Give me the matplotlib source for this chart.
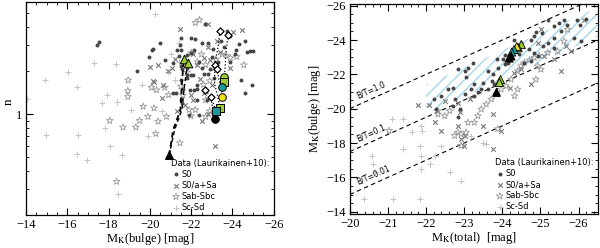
import numpy as np
import matplotlib
matplotlib.use("Agg")
import matplotlib.pyplot as plt
from matplotlib.ticker import MultipleLocator, FixedLocator, NullFormatter, FixedFormatter

plt.rcParams["font.family"] = "Liberation Serif"
plt.rcParams["mathtext.fontset"] = "stix"
plt.rcParams["hatch.linewidth"] = 1.0

# ---- left panel: M_K(bulge) vs n (Laurikainen+10 sample) ----
s0_mb = [-17.42, -17.52, -20.13, -20.5, -19.39, -20.72, -21.42, -21.98, -22.65, -22.53, -22.8, -23.06,
         -23.72, -23.86, -24.19, -24.6, -24.7, -24.85, -25.0, -24.43, -24.93, -24.63, -23.39, -21.1,
         -21.25, -22.0, -22.9, -22.5, -22.6, -22.8, -23.1, -21.8, -22.75, -21.9, -22.4, -23.1, -20.11,
         -19.97, -21.53, -21.45, -21.3, -21.53, -21.8, -21.97, -22.14, -21.1, -21.5, -21.56, -21.8,
         -21.5, -21.6, -21.93, -22.14, -22.26, -21.8, -22.1, -22.3, -22.26, -21.5, -21.55, -23.9,
         -24.1, -23.0, -23.3, -22.4, -23.6, -23.45, -24.3, -22.2]
s0_n = [3.0, 3.19, 2.81, 3.09, 2.0, 2.37, 2.52, 3.37, 4.2, 3.12, 3.1, 2.81, 3.77, 3.5, 2.8, 3.2, 2.7,
        2.75, 2.72, 1.72, 1.59, 1.40, 1.55, 1.40, 1.40, 1.87, 2.05, 2.1, 1.9, 1.9, 1.77, 1.77, 1.25,
        0.99, 0.99, 1.11, 2.77, 2.49, 3.4, 3.0, 2.77, 2.77, 2.56, 2.66, 2.77, 2.25, 2.15, 2.04, 2.1,
        1.72, 1.49, 1.48, 1.48, 1.5, 1.87, 1.87, 1.6, 1.25, 1.25, 1.2, 2.3, 2.6, 2.5, 2.3, 2.3, 2.9,
        3.2, 3.05, 3.3]

sa_mb = [-21.45, -22.82, -20.13, -20.2, -20.03, -20.64, -21.05, -21.2, -23.14, -22.5, -22.1, -22.9,
         -23.1, -24.03, -24.45, -23.25, -22.8, -23.4, -22.1, -20.4, -20.9, -22.3, -22.6, -22.0, -21.7,
         -22.8, -22.6, -23.0, -20.6, -21.3, -23.9, -22.45]
sa_n = [3.92, 4.2, 1.7, 1.66, 2.11, 1.59, 2.1, 2.43, 0.60, 0.89, 1.25, 2.37, 2.1, 3.7, 3.85, 3.2, 2.9,
        2.7, 2.6, 2.2, 2.0, 2.2, 2.45, 1.35, 1.15, 1.0, 1.4, 1.6, 1.3, 1.05, 2.1, 1.75]

sb_mb = [-18.95, -18.93, -18.93, -19.68, -19.5, -18.06, -18.7, -19.32, -19.9, -20.08, -20.32, -20.2,
         -20.4, -20.8, -20.28, -20.72, -20.9, -21.45, -21.5, -21.6, -21.99, -22.2, -21.9, -22.0, -22.9,
         -23.1, -22.7, -22.7, -24.55, -18.39, -22.2, -22.4, -22.3, -22.5, -22.7, -23.2, -23.5, -23.9,
         -22.9, -21.8, -22.6, -24.2, -23.7]
sb_n = [1.72, 1.45, 1.32, 1.13, 0.90, 0.90, 0.81, 0.81, 0.96, 1.53, 1.47, 1.1, 0.89, 0.96, 0.73, 1.53,
        1.36, 0.63, 1.56, 1.35, 0.97, 1.07, 1.07, 2.66, 1.05, 1.02, 0.96, 1.25, 2.19, 0.34, 4.3, 4.5,
        2.3, 2.6, 2.2, 2.4, 2.6, 2.45, 1.7, 1.95, 1.6, 2.5, 2.55]

sc_mb = [-20.26, -17.3, -16.05, -18.35, -14.93, -16.45, -17.9, -17.7, -18.4, -19.1, -17.84, -18.06,
         -14.97, -16.53, -16.48, -16.94, -18.63, -18.48, -21.4, -21.4, -19.9, -21.2, -20.9, -14.03,
         -19.6, -20.6, -21.0]
sc_n = [4.97, 2.27, 1.97, 2.23, 1.72, 1.55, 1.36, 1.20, 1.22, 1.07, 0.80, 0.60, 0.72, 0.72, 0.53, 0.48,
        0.52, 0.28, 2.3, 3.09, 0.70, 1.72, 1.97, 1.27, 1.6, 1.05, 2.6]

# model tracks (left)
dash1_mb = [-20.93, -21.13, -21.48, -21.53, -21.6, -21.65]
dash1_n = [0.516, 0.78, 1.07, 1.47, 2.02, 2.43]
dash2_mb = [-20.93, -21.2, -21.55, -21.65, -21.75, -21.86]
dash2_n = [0.516, 0.78, 1.07, 1.47, 1.9, 2.25]
dot_tracks = [
    ([-23.79, -23.70, -23.61, -23.58], [3.56, 2.8, 1.82, 1.68]),
    ([-23.39, -23.30, -23.14], [3.75, 2.9, 2.19]),
    ([-23.14, -23.14, -23.30, -23.39], [2.19, 1.6, 1.3, 1.10]),
    ([-23.25, -23.35, -23.47, -23.50], [2.07, 1.7, 1.54, 1.31]),
    ([-22.69, -22.94, -23.14], [1.47, 1.32, 0.92]),
    ([-22.94, -23.22], [1.32, 1.05]),
]
diam_mb = [-23.39, -23.79, -23.14, -23.25, -22.69, -22.94]
diam_n = [3.75, 3.56, 2.19, 2.07, 1.47, 1.32]
col_mb = [-23.61, -23.58, -23.47, -23.50, -23.39, -23.22, -23.14]
col_n = [1.82, 1.68, 1.54, 1.31, 1.10, 1.05, 0.92]
col_c = ["#9acd32", "#9acd32", "#1a9a9a", "#f0e020", "#9acd32", "#1a9a9a", "black"]
col_m = ["o", "s", "o", "o", "s", "s", "o"]
gtri_mb = [-21.65, -21.86]
gtri_n = [2.43, 2.25]
btri_mb = [-20.93]
btri_n = [0.516]

# ---- right panel: M_K(total) vs M_K(bulge) ----
r_s0_mt = [-22.84, -23.03, -23.10, -23.23, -23.05, -23.27, -23.49, -23.62, -23.75, -23.73, -23.88, -24.01,
           -24.06, -24.14, -24.32, -24.49, -24.75, -24.84, -25.03, -25.19, -25.36, -25.49, -25.62, -25.71,
           -25.97, -26.04, -25.88, -26.06, -24.56, -24.75, -24.84, -25.06, -25.19, -25.36, -22.21, -22.40,
           -22.58, -22.71, -22.75, -22.88, -23.01, -23.27, -23.36, -23.45, -23.19, -22.27, -22.84, -22.71,
           -23.62, -23.79, -24.45, -24.71, -24.94, -25.36, -25.54, -24.88, -23.86, -24.07, -26.2]
r_s0_mb = [-22.29, -22.19, -22.39, -22.68, -21.86, -21.42, -21.52, -22.19, -22.0, -21.61, -22.39, -22.87,
           -22.58, -22.68, -24.03, -23.84, -24.03, -24.22, -24.42, -25.15, -24.80, -25.0, -25.19, -24.9,
           -25.19, -24.9, -24.13, -23.93, -22.68, -22.77, -23.26, -23.64, -23.84, -24.13, -20.55, -20.74,
           -21.13, -21.23, -20.55, -19.97, -20.84, -20.74, -20.98, -21.17, -21.13, -19.97, -19.49, -20.16,
           -21.13, -21.42, -23.16, -23.45, -23.06, -23.55, -24.51, -24.45, -22.87, -23.10, -25.2]

r_sa_mt = [-22.08, -22.49, -22.84, -23.14, -22.84, -22.92, -23.01, -23.49, -23.75, -23.97, -24.32, -24.49,
           -24.19, -24.75, -25.01, -24.93, -25.10, -25.54, -25.67, -25.80, -26.14, -25.36, -22.23, -22.40,
           -22.99, -23.75, -22.88, -21.80]
r_sa_mb = [-20.20, -20.45, -20.32, -20.55, -19.0, -18.23, -18.43, -19.0, -19.68, -18.72, -22.10, -22.29,
           -21.23, -21.42, -24.65, -23.84, -23.06, -22.19, -23.64, -23.35, -25.19, -22.87, -19.2, -18.72,
           -17.85, -17.65, -19.78, -20.22]

r_sb_mt = [-22.31, -22.49, -22.62, -22.84, -22.92, -23.05, -23.10, -23.27, -23.36, -23.45, -23.58, -23.71,
           -23.84, -23.97, -24.10, -24.23, -24.40, -24.49, -24.58, -24.71, -24.84, -24.97, -25.19, -25.45,
           -25.62, -25.71, -22.92, -22.75, -23.88, -24.32, -24.40, -24.93, -21.03, -22.31, -24.88, -25.01]
r_sb_mb = [-19.68, -19.58, -19.87, -18.62, -18.52, -18.62, -19.20, -19.20, -19.58, -19.97, -20.26, -20.55,
           -20.84, -21.13, -21.32, -21.71, -22.19, -22.48, -22.68, -22.83, -22.97, -23.10, -23.26, -23.35,
           -23.93, -24.61, -17.85, -18.43, -18.82, -20.74, -21.13, -22.48, -18.72, -19.87, -21.71, -22.29]

r_sc_mt = [-20.36, -21.14, -21.84, -20.57, -20.62, -20.66, -21.10, -21.40, -21.62, -21.90, -21.85, -21.88,
           -21.88, -22.10, -22.23, -22.38, -22.91, -23.49, -23.58, -23.19, -21.40, -22.62, -21.88]
r_sc_mb = [-14.75, -14.75, -14.75, -17.27, -16.78, -16.30, -19.39, -19.39, -18.62, -18.72, -17.85, -17.27,
           -16.49, -16.78, -17.27, -17.85, -15.76, -18.0, -17.94, -18.43, -17.65, -16.30, -19.0]

r_col_mt = [-24.50, -24.42, -24.38, -24.31, -24.25, -24.23, -24.18]
r_col_mb = [-23.74, -23.55, -23.62, -23.45, -23.30, -23.07, -22.95]
r_col_c = ["#9acd32", "#9acd32", "#f0e020", "#1a9a9a", "#1a9a9a", "black", "black"]
r_gtri_mt = [-23.94, -23.92]
r_gtri_mb = [-21.75, -21.55]
r_btri_mt = [-23.83]
r_btri_mb = [-20.95]
r_dash_mt = [-23.83, -23.88, -23.94]
r_dash_mb = [-20.95, -21.35, -21.75]

band_mt = [-22.0, -26.5]
band_off = [0.6, 2.3]          # M_bulge - M_total range of the hatched region
bt_values = [1.0, 0.1, 0.01]
bt_labels = ["B/T=1.0", "B/T=0.1", "B/T=0.01"]

fig = plt.figure(figsize=(6.0, 2.48), dpi=100)
ax1 = fig.add_axes([0.0433, 0.134, 0.413, 0.858])
ax2 = fig.add_axes([0.583, 0.136, 0.413, 0.848])

def data_points(ax, x0, y0, x1, y1, x2, y2, x3, y3):
    ax.scatter(x3, y3, marker="+", s=14, c="#c4c4c4", lw=0.7, label="Sc-Sd", zorder=2)
    ax.scatter(x2, y2, marker="*", s=26, facecolors="none", edgecolors="#9a9a9a", lw=0.6,
               label="Sab-Sbc", zorder=2)
    ax.scatter(x1, y1, marker="x", s=11, c="#7a7a7a", lw=0.8, label="S0/a+Sa", zorder=2)
    ax.scatter(x0, y0, marker="o", s=8, c="#454545", lw=0, label="S0", zorder=3)
    h, l = ax.get_legend_handles_labels()
    leg = ax.legend(h[::-1], l[::-1], loc="lower left", bbox_to_anchor=(0.565, -0.01),
                    frameon=False, title="Data (Laurikainen+10):",
                    title_fontsize=6, handletextpad=0.1, labelspacing=0.25,
                    borderaxespad=0.2, handlelength=1.2, prop={"family": "DejaVu Sans", "size": 6})
    leg._legend_box.align = "left"
    leg.get_title().set_family("DejaVu Sans")

def style(ax):
    ax.tick_params(which="both", direction="in", top=True, right=True, labelsize=9, pad=3)
    ax.tick_params(which="major", length=5, width=0.8)
    ax.tick_params(which="minor", length=2.5, width=0.6)
    for sp in ax.spines.values():
        sp.set_linewidth(0.9)

# left panel
data_points(ax1, s0_mb, s0_n, sa_mb, sa_n, sb_mb, sb_n, sc_mb, sc_n)
ax1.plot(dash1_mb, dash1_n, ls=(0, (3, 2)), c="black", lw=1.3, zorder=4)
ax1.plot(dash2_mb, dash2_n, ls=(0, (3, 2)), c="black", lw=1.0, zorder=4)
for tx, ty in dot_tracks:
    ax1.plot(tx, ty, ls=":", c="black", lw=0.9, zorder=4)
ax1.scatter(diam_mb, diam_n, marker="D", s=13, facecolors="white", edgecolors="black", lw=0.9, zorder=5)
for xm, yn, c, m in zip(col_mb, col_n, col_c, col_m):
    ax1.scatter(xm, yn, marker=m, s=30, c=c, edgecolors="black", lw=0.7, zorder=6)
ax1.scatter(gtri_mb, gtri_n, marker="^", s=38, c="#9acd32", edgecolors="black", lw=0.7, zorder=6)
ax1.scatter(btri_mb, btri_n, marker="^", s=30, c="black", zorder=6)
ax1.set_yscale("log")
ax1.set_xlim(-14, -26)
ax1.set_ylim(0.2, 6)
ax1.xaxis.set_major_locator(MultipleLocator(2))
ax1.xaxis.set_minor_locator(MultipleLocator(0.5))
ax1.yaxis.set_major_locator(FixedLocator([1]))
ax1.yaxis.set_major_formatter(FixedFormatter(["1"]))
ax1.yaxis.set_minor_locator(FixedLocator([0.2, 0.3, 0.4, 0.5, 0.6, 0.7, 0.8, 0.9, 2, 3, 4, 5]))
ax1.yaxis.set_minor_formatter(NullFormatter())
ax1.set_xlabel(r"M$_{\rm K}$(bulge) [mag]", fontsize=9, labelpad=0)
ax1.set_ylabel("n", fontsize=9.5)
ax1.yaxis.set_label_coords(-0.045, 0.53)
style(ax1)

# right panel
bx = np.array(band_mt)
ax2.fill_between(bx, bx + band_off[0], bx + band_off[1], facecolor="none",
                 edgecolor="#a6d6ee", hatch="///", lw=0, zorder=1)
ax2.set_xlim(-20, -26.5)
ax2.set_ylim(-13.85, -26.1)
lx = np.array([-20.0, -26.5])
fig.canvas.draw()
p0 = ax2.transData.transform((-20, -20))
p1 = ax2.transData.transform((-21, -21))
ang = np.degrees(np.arctan2(p1[1] - p0[1], p1[0] - p0[0]))
for bt, lab in zip(bt_values, bt_labels):
    off = -2.5 * np.log10(bt)
    ax2.plot(lx, lx + off, ls=(0, (4, 3)), c="black", lw=0.8, zorder=2)
    ax2.text(-20.25, -20.25 + off - 0.25, lab, fontsize=5.5, family="DejaVu Sans",
             rotation=ang, rotation_mode="anchor", ha="left", va="bottom", zorder=3)
data_points(ax2, r_s0_mt, r_s0_mb, r_sa_mt, r_sa_mb, r_sb_mt, r_sb_mb, r_sc_mt, r_sc_mb)
ax2.plot(r_dash_mt, r_dash_mb, ls=(0, (3, 2)), c="black", lw=1.1, zorder=4)
ax2.scatter(r_col_mt, r_col_mb, marker="^", s=34, c=r_col_c, edgecolors="black", lw=0.6, zorder=6)
ax2.scatter(r_gtri_mt, r_gtri_mb, marker="^", s=34, c="#9acd32", edgecolors="black", lw=0.6, zorder=6)
ax2.scatter(r_btri_mt, r_btri_mb, marker="^", s=28, c="black", zorder=6)
ax2.xaxis.set_major_locator(MultipleLocator(1))
ax2.xaxis.set_minor_locator(MultipleLocator(0.2))
ax2.yaxis.set_major_locator(MultipleLocator(2))
ax2.yaxis.set_minor_locator(MultipleLocator(0.5))
ax2.set_xlabel(r"M$_{\rm K}$(total)  [mag]", fontsize=9, labelpad=0)
ax2.set_ylabel(r"M$_{\rm K}$(bulge) [mag]", fontsize=9, labelpad=2)
style(ax2)

fig.savefig("out.png", dpi=100)
